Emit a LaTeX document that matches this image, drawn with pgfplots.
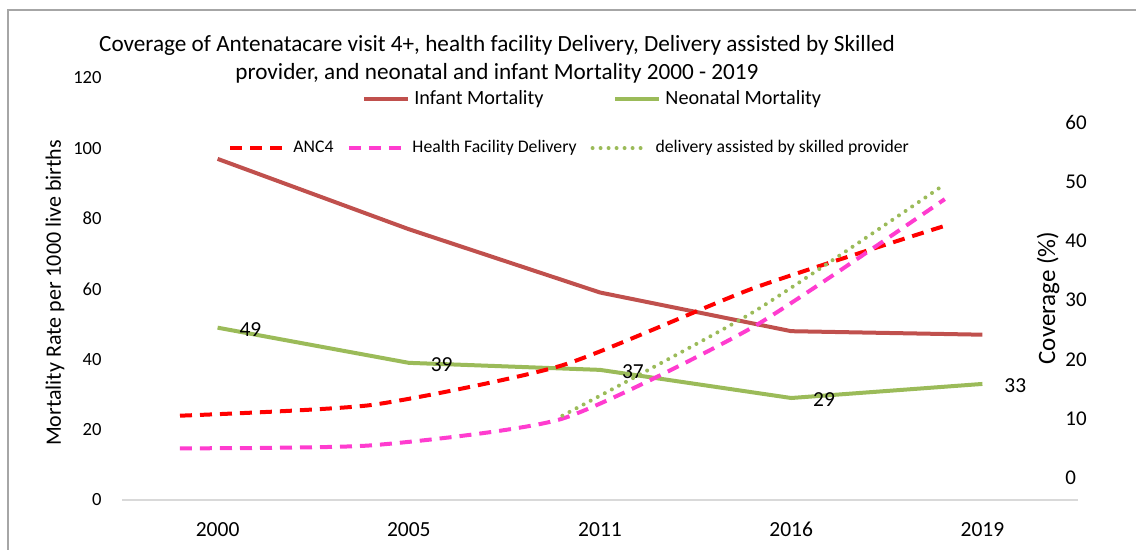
\documentclass[border=0pt]{standalone}
\usepackage{fontspec}
\setmainfont{Carlito}
\usepackage{pgfplots}
\pgfplotsset{compat=1.18}
\definecolor{infant}{HTML}{C0504D}
\definecolor{neo}{HTML}{9BBB59}
\definecolor{anc}{HTML}{FF0000}
\definecolor{hfd}{HTML}{FF3CCF}
\definecolor{axgray}{HTML}{D9D9D9}
\newcommand{\fs}[1]{\fontsize{#1}{1.2\dimexpr #1\relax}\selectfont}
\begin{document}
\begin{tikzpicture}
\useasboundingbox (0,0) rectangle (568pt,275pt);
% frame
\draw[gray!70, line width=0.75pt] (4pt,0pt) -- (4pt,270pt) -- (568pt,270pt);
% primary axis
\begin{axis}[
  at={(61pt,25pt)}, anchor=south west,
  scale only axis, width=478pt, height=211pt,
  xmin=-0.5, xmax=4.5, ymin=0, ymax=120,
  axis x line*=bottom, axis y line*=left,
  x axis line style={draw=axgray, line width=0.9pt, -},
  y axis line style={draw=none},
  major tick length=0pt,
  xtick={0,1,2,3,4}, xticklabels={2000,2005,2011,2016,2019},
  ytick={0,20,40,60,80,100,120},
  /pgf/number format/assume math mode=true,
  xticklabel style={font=\fs{10.75pt}, anchor=base, inner sep=0pt, yshift=-18.5pt},
  yticklabel style={font=\fs{9.3pt}, anchor=east, inner sep=0pt, xshift=-10pt},
  clip=false,
  legend style={at={(0.251,0.951)}, anchor=west, draw=none, fill=none,
    font=\fs{10.1pt}, legend columns=2, inner sep=0pt,
    nodes={inner sep=0pt, anchor=west},
    /tikz/every odd column/.style={column sep=2pt},
    /tikz/every even column/.style={column sep=35pt}},
  legend image code/.code={\draw[#1] (0pt,0pt) -- (22pt,0pt);},
]
\addplot[infant, line width=2pt] coordinates {(0,97) (1,77) (2,59) (3,48) (4,47)};
\addlegendentry{Infant Mortality}
\addplot[neo, line width=2pt, nodes near coords,
  every node near coord/.style={anchor=west, inner sep=0pt, xshift=10pt, yshift=-1pt, text=black, font=\fs{10.7pt}}]
  coordinates {(0,49) (1,39) (2,37) (3,29) (4,33)};
\addlegendentry{Neonatal Mortality}
\end{axis}
% secondary axis
\begin{axis}[
  at={(61pt,25pt)}, anchor=south west,
  scale only axis, width=478pt, height=211pt,
  xmin=-0.3033, xmax=4.6967, ymin=-3.708, ymax=67.42,
  hide x axis,
  axis y line*=right,
  y axis line style={draw=none},
  major tick length=0pt,
  ytick={0,10,20,30,40,50,60},
  /pgf/number format/assume math mode=true,
  yticklabel style={font=\fs{10.5pt}, anchor=west, inner sep=0pt, xshift=-6.5pt},
  clip=false,
  legend style={at={(0.1109,0.834)}, anchor=west, draw=none, fill=none,
    font=\fs{8.85pt}, legend columns=3, inner sep=0pt,
    nodes={inner sep=0pt, anchor=west},
    /tikz/every odd column/.style={column sep=4.5pt},
    /tikz/every even column/.style={column sep=7pt}},
  legend image code/.code={\draw[#1] (0pt,0pt) -- (26pt,0pt);},
]
\addplot[anc, line width=2pt, dash pattern=on 6pt off 4pt, smooth, tension=0.35] coordinates {(0,10.5) (1,12.3) (2,19) (3,32) (4,42.5)};
\addlegendentry{ANC4}
\addplot[hfd, line width=2pt, dash pattern=on 6pt off 4pt, smooth, tension=0.35] coordinates {(0,5) (1,5.5) (2,10) (3,25.5) (4,47)};
\addlegendentry{Health Facility Delivery}
\addplot[neo, line width=2pt, line cap=round, dash pattern=on 0pt off 4pt, smooth, tension=0.35] coordinates {(2,10.5) (3,28) (4,49.5)};
\addlegendentry{delivery assisted by skilled provider}
\end{axis}
% titles and labels
\node[anchor=base, font=\fs{11.6pt}] at (248.5pt,249.2pt) {Coverage of Antenatacare visit 4+, health facility Delivery, Delivery assisted by Skilled};
\node[anchor=base, font=\fs{11.6pt}] at (248.5pt,235pt) {provider, and neonatal and infant Mortality 2000 - 2019};
\node[rotate=90, font=\fs{11pt}] at (27.5pt,128.5pt) {Mortality Rate per 1000 live births};
\node[rotate=90, font=\fs{12.5pt}] at (524pt,126pt) {Coverage (\%)};
\end{tikzpicture}
\end{document}
